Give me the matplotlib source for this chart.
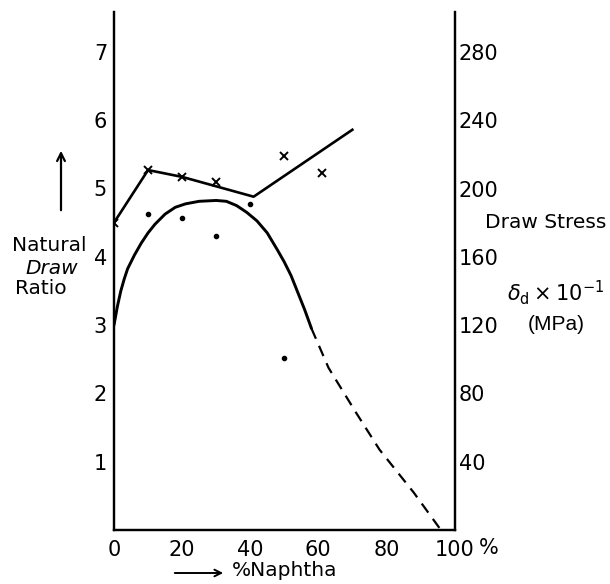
import matplotlib
matplotlib.use("Agg")
import matplotlib.pyplot as plt

# Natural draw ratio (crosses) and the straight line drawn through them
ndr_x = [0, 10, 20, 30, 50, 61]
ndr_y = [4.5, 5.27, 5.17, 5.1, 5.48, 5.22]
ndr_line_x = [0, 10, 20, 41, 70]
ndr_line_y = [4.5, 5.27, 5.17, 4.88, 5.86]

# Draw stress (dots) and its curve, right axis units
stress_x = [10, 20, 30, 40, 50]
stress_y = [185, 183, 172, 191, 101]
curve_x = [0, 1, 2, 3, 4, 6, 8, 10, 12, 15, 18, 21, 25, 30, 33, 36, 39, 42, 45, 48, 50, 52, 54, 56, 58]
curve_y = [120, 131, 140, 147, 153, 161, 168, 174, 179, 185, 189, 191, 192.5, 193, 192.5, 190,
           186, 181, 174, 164, 157, 149, 139, 129, 118]
dash_x = [58, 63, 71, 78, 88, 96]
dash_y = [118, 95, 69, 47, 22, 0]

xticks = [0, 20, 40, 60, 80, 100]
left_ticks = [1, 2, 3, 4, 5, 6, 7]
right_ticks = [40, 80, 120, 160, 200, 240, 280]

W, H = 610, 584
TICKSIZE = 15

fig = plt.figure(figsize=(W / 100, H / 100), dpi=100)
ax = fig.add_axes([114 / W, 54 / H, 340.5 / W, 518 / H])
ax2 = ax.twinx()

top = 518 / 68.3
ax.set_xlim(0, 100)
ax.set_ylim(0, top)
ax2.set_ylim(0, top * 40)

for a in (ax, ax2):
    a.spines["top"].set_visible(False)
    for s in ("left", "right", "bottom"):
        a.spines[s].set_linewidth(1.6)
    a.patch.set_visible(False)

ax.plot(ndr_line_x, ndr_line_y, color="black", lw=1.9)
ax.plot(ndr_x, ndr_y, ls="none", marker="x", ms=6, mew=1.4, color="black")

ax2.plot(curve_x, curve_y, color="black", lw=2.1, solid_capstyle="round", solid_joinstyle="round")
ax2.plot(dash_x, dash_y, color="black", lw=1.6, ls=(0, (5, 3.5)))
ax2.plot(stress_x, stress_y, ls="none", marker="o", ms=3, color="black")

ax.set_xticks(xticks)
ax.set_xticklabels([str(t) for t in xticks], fontsize=TICKSIZE)
ax.set_yticks(left_ticks)
ax.set_yticklabels([str(t) for t in left_ticks], fontsize=TICKSIZE)
ax2.set_yticks(right_ticks)
ax2.set_yticklabels([str(t) for t in right_ticks], fontsize=TICKSIZE)
ax.tick_params(axis="x", length=0, pad=7)
ax.tick_params(axis="y", length=0, pad=5)
ax2.tick_params(axis="y", length=0, pad=3)


def ftext(x, y, s, **kw):
    fig.text(x / W, 1 - y / H, s, **kw)


ftext(489, 548, "%", fontsize=TICKSIZE, ha="center", va="center")

# left axis label with arrow
ftext(12, 245, "Natural", fontsize=14.5, ha="left", va="center")
ftext(25, 268, "Draw", fontsize=14.5, ha="left", va="center", style="italic")
ftext(15, 288, "Ratio", fontsize=14.5, ha="left", va="center")
fig.add_artist(matplotlib.patches.FancyArrowPatch(
    (61 / W, 1 - 213 / H), (61 / W, 1 - 148 / H), transform=fig.transFigure,
    arrowstyle="->", mutation_scale=14, lw=1.6, color="black"))

# x axis label with arrow
ftext(232, 571, "%Naphtha", fontsize=14.5, ha="left", va="center")
fig.add_artist(matplotlib.patches.FancyArrowPatch(
    (172 / W, 1 - 573 / H), (226 / W, 1 - 573 / H), transform=fig.transFigure,
    arrowstyle="->", mutation_scale=12, lw=1.4, color="black"))

# right axis label
ftext(485, 223, "Draw Stress", fontsize=14.5, ha="left", va="center")
ftext(556, 293, r"$\delta_{\rm d} \times 10^{-1}$", fontsize=15, ha="center", va="center",
      family="Liberation Sans")
ftext(556, 324, "(MPa)", fontsize=15, ha="center", va="center", family="Liberation Sans")

fig.savefig("out.png", dpi=100)
